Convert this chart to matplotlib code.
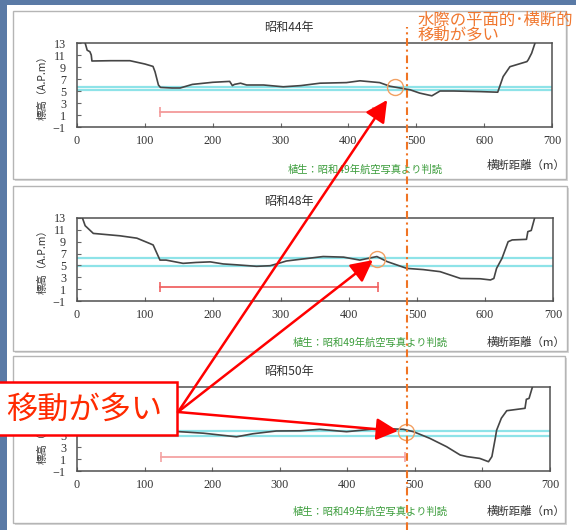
import matplotlib
matplotlib.use("Agg")
import matplotlib.pyplot as plt
from matplotlib.patches import Rectangle, ConnectionPatch
from matplotlib.lines import Line2D

# ---------------- data ----------------
titles = ["昭和44年", "昭和48年", "昭和50年"]

dist_s44 = [12, 15, 19, 21, 22, 50, 78, 100, 112, 115, 120, 123, 140, 152, 170, 200,
            225, 229, 232, 241, 250, 275, 304, 330, 358, 397, 417, 446, 461, 491,
            505, 523, 535, 555, 594, 620, 628, 638, 663, 665, 670, 675]
elev_s44 = [13, 11.8, 11.55, 11.0, 10.0, 10.05, 10.05, 9.5, 9.1, 8.2, 6.0, 5.6, 5.5,
            5.5, 6.1, 6.45, 6.6, 5.9, 6.1, 6.3, 6.0, 6.0, 5.7, 5.9, 6.3, 6.4, 6.7,
            6.4, 5.8, 5.2, 4.65, 4.2, 5.0, 5.0, 4.9, 4.8, 7.4, 9.05, 9.9, 10.2, 11.3, 13]

dist_s48 = [8, 12, 24, 63, 88, 107, 112, 122, 131, 156, 175, 196, 215, 235, 264, 284,
            298, 308, 333, 362, 392, 416, 441, 456, 485, 509, 534, 564, 593, 608,
            613, 617, 625, 634, 640, 661, 663, 668, 673]
elev_s48 = [13, 11.7, 10.4, 10.0, 9.6, 8.7, 8.45, 5.9, 5.9, 5.35, 5.5, 5.6, 5.25, 5.1,
            4.85, 4.95, 5.4, 5.75, 6.1, 6.5, 6.4, 5.9, 6.5, 5.65, 4.5, 4.3, 3.95,
            2.8, 2.75, 2.55, 2.8, 4.5, 6.2, 9.0, 9.3, 9.4, 10.7, 10.9, 13]

dist_s50 = [8, 12, 24, 63, 100, 112, 120, 130, 152, 187, 236, 260, 295, 330, 359,
            399, 448, 483, 498, 522, 547, 567, 577, 596, 609, 614, 619, 621, 628,
            636, 663, 665, 669, 674]
elev_s50 = [13, 11.8, 10.5, 10.2, 9.6, 9.0, 6.0, 5.7, 5.55, 5.3, 4.7, 5.2, 5.67,
            5.7, 5.95, 5.55, 6.1, 5.95, 5.55, 4.45, 3.05, 1.67, 1.4, 1.1, 0.55, 1.4,
            4.45, 5.8, 7.8, 9.05, 9.45, 10.95, 11.1, 13]

# water-level band (lower, upper) in A.P.m
water_levels = [(5.1, 5.6), (4.85, 6.3), (4.9, 5.7)]
# vegetation extent (start, end) in m and the level where it is drawn
veg_extent = [(122, 436), (122, 442), (125, 485)]
veg_level = [1.5, 1.4, 1.35]
# points where the water edge moved
edge_points = [(469, 5.67), (441, 6.1), (487, 5.5)]
arrow_tips = [(457, 3.5), (435, 5.9), (475, 5.67)]
water_edge_x = 487

x_ticks = [0, 100, 200, 300, 400, 500, 600, 700]
y_ticks = [-1, 1, 3, 5, 7, 9, 11, 13]

# ---------------- layout helpers ----------------
W, H = 576, 530
fig = plt.figure(figsize=(W / 100, H / 100), dpi=100)
fig.patch.set_facecolor("#5a7aa6")

JP = ["Noto Sans CJK JP", "DejaVu Sans"]
SERIF = ["Liberation Serif", "DejaVu Serif"]


def rect_px(left, top, right, bottom):
    return [left / W, 1 - bottom / H, (right - left) / W, (bottom - top) / H]


# white sheet and panel frames
fig.add_artist(Rectangle((7 / W, 0), 1 - 7 / W, 1 - 5 / H, transform=fig.transFigure,
                         facecolor="white", edgecolor="none", zorder=-5))
panels = [(13, 11, 566, 179), (13, 186, 567, 351), (13, 356, 565, 523)]
for (l, t, r, b) in panels:
    fig.add_artist(Rectangle((l / W + 1.5 / W, 1 - b / H - 1.5 / H), (r - l) / W, (b - t) / H,
                             transform=fig.transFigure, facecolor="#d8d8d8",
                             edgecolor="none", zorder=-4))
    fig.add_artist(Rectangle((l / W, 1 - b / H), (r - l) / W, (b - t) / H,
                             transform=fig.transFigure, facecolor="white",
                             edgecolor="#b5b5b5", lw=1.0, zorder=-3))

axes_px = [(77, 43, 552, 127), (77, 218, 553, 301), (77, 387, 550, 471)]
title_y = [27, 202, 371]
xlabel_y = [165, 342, 511]
veg_text_pos = [(288, 170), (293, 343), (293, 512)]
veg_colors = ["#f39a9a", "#f06464", "#f4a3a3"]

profiles = [(dist_s44, elev_s44), (dist_s48, elev_s48), (dist_s50, elev_s50)]
axes = []
for i in range(3):
    ax = fig.add_axes(rect_px(*axes_px[i]))
    ax.set_facecolor("none")
    axes.append(ax)
    d, e = profiles[i]
    lo, hi = water_levels[i]
    ax.axhline(lo, color="#8ee3e8", lw=1.6, zorder=1)
    ax.axhline(hi, color="#8ee3e8", lw=1.6, zorder=1)
    ax.plot(d, e, color="#454545", lw=1.2, zorder=3)
    v0, v1 = veg_extent[i]
    ax.plot([v0, v1], [veg_level[i]] * 2, color=veg_colors[i], lw=1.3,
            marker="|", markersize=7, markeredgewidth=1.2, zorder=2)
    ax.plot([edge_points[i][0]], [edge_points[i][1]], marker="o", markersize=11.5,
            markerfacecolor="none", markeredgecolor="#f2a062", markeredgewidth=1.0,
            zorder=4, clip_on=False)
    ax.set_xlim(0, 700)
    ax.set_ylim(-1, 13)
    ax.set_xticks(x_ticks)
    ax.set_yticks(y_ticks)
    ax.tick_params(direction="in", length=3, width=0.8, color="#666666",
                   labelsize=8.7, labelcolor="#333333")
    ax.tick_params(axis="y", pad=8)
    ax.tick_params(axis="x", pad=6)
    for lab in ax.get_xticklabels() + ax.get_yticklabels():
        lab.set_family(SERIF)
    for sp in ax.spines.values():
        sp.set_color("#505050")
        sp.set_linewidth(1.1)
    ax.set_ylabel("標高（A.P.m）", family=JP, fontsize=7.5, color="#333333", labelpad=4)

    fig.text(289 / W, 1 - title_y[i] / H, titles[i], family=JP, fontsize=8.7,
             color="#333333", ha="center", va="center")
    fig.text(487 / W, 1 - xlabel_y[i] / H, "横断距離（m）", family=JP, fontsize=8.2,
             color="#333333", ha="left", va="center")
    tx, ty = veg_text_pos[i]
    fig.text(tx / W, 1 - ty / H, "植生：昭和49年航空写真より判読", family=JP,
             fontsize=7.4, color="#3a9c3a", ha="left", va="center")

# vertical water-edge reference line across all panels
xd = axes[0].transData.transform((water_edge_x, 0))[0]
xf = fig.transFigure.inverted().transform((xd, 0))[0]
fig.add_artist(Line2D([xf, xf], [0, 1 - 27 / H], transform=fig.transFigure,
                      color="#f07424", lw=1.5, linestyle=(0, (3.7, 1.8, 1, 1.8)),
                      zorder=6))

# annotation in the upper right
fig.text(418 / W, 1 - 20 / H, "水際の平面的･横断的", family=JP, fontsize=11.8,
         color="#f07830", ha="left", va="center", zorder=7)
fig.text(418 / W, 1 - 35.5 / H, "移動が多い", family=JP, fontsize=11.8,
         color="#f07830", ha="left", va="center", zorder=7)

# callout box with arrows to each moved water edge
fig.add_artist(Rectangle((-5 / W, 1 - 435 / H), 182 / W, 53 / H, transform=fig.transFigure,
                         facecolor="white", edgecolor="#ff0000", lw=1.8, zorder=8))
fig.text(84 / W, 1 - 410 / H, "移動が多い", family=JP, fontsize=22.5,
         color="#ff2a00", ha="center", va="center", zorder=9)

origin = (178, H - 412)
for ax, tip in zip(axes, arrow_tips):
    con = ConnectionPatch(xyA=origin, coordsA="figure pixels", xyB=tip, coordsB=ax.transData,
                          arrowstyle="-|>,head_length=0.55,head_width=0.28",
                          mutation_scale=24, color="#ff0000", lw=1.8,
                          shrinkA=0, shrinkB=0, zorder=8)
    fig.add_artist(con)

fig.savefig("out.png", dpi=100, facecolor=fig.get_facecolor())
